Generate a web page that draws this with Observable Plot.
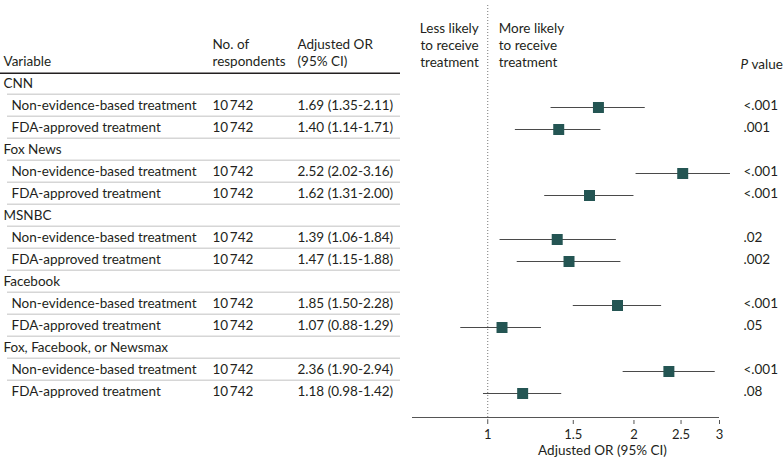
<!DOCTYPE html>
<html><head><meta charset="utf-8">
<script src="https://cdn.jsdelivr.net/npm/d3@7"></script>
<script src="https://cdn.jsdelivr.net/npm/@observablehq/plot@0.6"></script>
<style>
body{margin:0;background:#fff;}
#chart{display:flex;width:783px;height:473px;background:#fff;}
#chart svg{display:block;}
</style></head><body><div id="chart"></div>
<script>
const groups = ["CNN", "Fox News", "MSNBC", "Facebook", "Fox, Facebook, or Newsmax"];
const treatments = ["Non-evidence-based treatment", "FDA-approved treatment"];
const respondents = [10742, 10742, 10742, 10742, 10742, 10742, 10742, 10742, 10742, 10742];
const oddsRatios = [1.69, 1.40, 2.52, 1.62, 1.39, 1.47, 1.85, 1.07, 2.36, 1.18];
const ciLow = [1.35, 1.14, 2.02, 1.31, 1.06, 1.15, 1.50, 0.88, 1.90, 0.98];
const ciHigh = [2.11, 1.71, 3.16, 2.00, 1.84, 1.88, 2.28, 1.29, 2.94, 1.42];
const pValues = ["<.001", ".001", "<.001", "<.001", ".02", ".002", "<.001", ".05", "<.001", ".08"];
const xTicks = [1, 1.5, 2, 2.5, 3];
const xTickLabels = ["1", "1.5", "2", "2.5", "3"];
const columnHeads = ["Variable", "No. of\nrespondents", "Adjusted OR\n(95% CI)"];
const lessLabel = "Less likely\nto receive\ntreatment";
const moreLabel = "More likely\nto receive\ntreatment";
const axisTitle = "Adjusted OR (95% CI)";

const FONT = "Lato, 'Open Sans', sans-serif";
const FS = 13.5;
const INK = "#231f20";
const SQ = "#245553";

const rows = [];
groups.forEach((g, gi) => {
  rows.push({id: "g" + gi, type: "group", label: g});
  treatments.forEach((t, ti) => {
    const k = gi * 2 + ti;
    rows.push({id: "s" + k, type: "sub", label: t, n: respondents[k], or: oddsRatios[k], lo: ciLow[k], hi: ciHigh[k], p: pValues[k]});
  });
});
const ids = rows.map(d => d.id);
const sub = rows.filter(d => d.type === "sub");
const grp = rows.filter(d => d.type === "group");
const fmtN = n => String(n).replace(/\B(?=(\d{3})+(?!\d))/g, "\u2009");
const fmtOR = d => `${d.or.toFixed(2)} (${d.lo.toFixed(2)}-${d.hi.toFixed(2)})`;

// column offsets (px) of the table part
const COL = {variable: 3, n: 212, or: 297};

const yScale = () => ({type: "point", domain: ids, range: [82.3, 396], padding: 0, axis: null});
const style = {fontFamily: FONT, fontSize: FS + "px", color: INK, background: "white", overflow: "visible"};

const table = Plot.plot({
  width: 400, height: 473, margin: 0,
  style,
  y: yScale(),
  marks: [
    Plot.ruleY(rows.slice(0, -1), {y: "id", dy: 8.7, insetLeft: 7, stroke: "#d6d6d6", strokeWidth: 1.5}),
    Plot.ruleY([ids[0]], {y: d => d, dy: -12.3, stroke: INK, strokeWidth: 1.6}),
    Plot.text([columnHeads[0]], {frameAnchor: "top-left", dx: COL.variable, dy: 65, lineAnchor: "bottom", textAnchor: "start", fontSize: FS}),
    Plot.text([columnHeads[1]], {frameAnchor: "top-left", dx: COL.n, dy: 65, lineAnchor: "bottom", textAnchor: "start", fontSize: FS, lineHeight: 1.25}),
    Plot.text([columnHeads[2]], {frameAnchor: "top-left", dx: COL.or, dy: 65, lineAnchor: "bottom", textAnchor: "start", fontSize: FS, lineHeight: 1.25}),
    Plot.text(grp, {y: "id", text: "label", frameAnchor: "left", dx: COL.variable, textAnchor: "start", dy: -1.5, fontSize: FS}),
    Plot.text(sub, {y: "id", text: "label", frameAnchor: "left", dx: COL.variable + 8, textAnchor: "start", dy: -1.5, fontSize: FS}),
    Plot.text(sub, {y: "id", text: d => fmtN(d.n), frameAnchor: "left", dx: COL.n, textAnchor: "start", dy: -1.5, fontSize: FS}),
    Plot.text(sub, {y: "id", text: fmtOR, frameAnchor: "left", dx: COL.or, textAnchor: "start", dy: -1.5, fontSize: FS})
  ]
});

const forest = Plot.plot({
  width: 383, height: 473, marginLeft: 12, marginRight: 64, marginTop: 5, marginBottom: 53,
  style,
  x: {type: "log", domain: [0.7, 3]},
  y: yScale(),
  marks: [
    Plot.ruleX([1], {stroke: "#777", strokeWidth: 1, strokeDasharray: "1,2"}),
    Plot.ruleY([ids[ids.length - 1]], {y: d => d, dy: 24, stroke: "#555", strokeWidth: 1}),
    Plot.axisX({ticks: xTicks, tickFormat: d => xTickLabels[xTicks.indexOf(d)], tickSize: 4, tickPadding: 5, label: null, fontSize: 13, stroke: "#555", fill: INK}),
    Plot.text([axisTitle], {frameAnchor: "bottom", dx: 36.5, dy: 34, fontSize: FS}),
    Plot.text([lessLabel], {x: () => 1, frameAnchor: "top", dx: -9, dy: 61, textAnchor: "end", lineAnchor: "bottom", lineHeight: 1.25, fontSize: FS}),
    Plot.text([moreLabel], {x: () => 1, frameAnchor: "top", dx: 11, dy: 61, textAnchor: "start", lineAnchor: "bottom", lineHeight: 1.25, fontSize: FS}),
    Plot.ruleY(sub, {y: "id", x1: "lo", x2: "hi", stroke: "#4a4a4a", strokeWidth: 1.2}),
    Plot.dot(sub, {y: "id", x: "or", symbol: "square", r: 6.2, fill: SQ, stroke: null}),
    Plot.text(sub, {y: "id", text: "p", frameAnchor: "right", dx: 24, dy: -1.5, textAnchor: "start", fontSize: FS}),
    Plot.text(["P"], {frameAnchor: "top-right", dx: 21, dy: 63, textAnchor: "start", lineAnchor: "bottom", fontStyle: "italic", fontSize: FS}),
    Plot.text(["value"], {frameAnchor: "top-right", dx: 32, dy: 63, textAnchor: "start", lineAnchor: "bottom", fontSize: FS})
  ]
});

const chart = document.getElementById("chart");
chart.appendChild(table);
chart.appendChild(forest);
</script></body></html>
